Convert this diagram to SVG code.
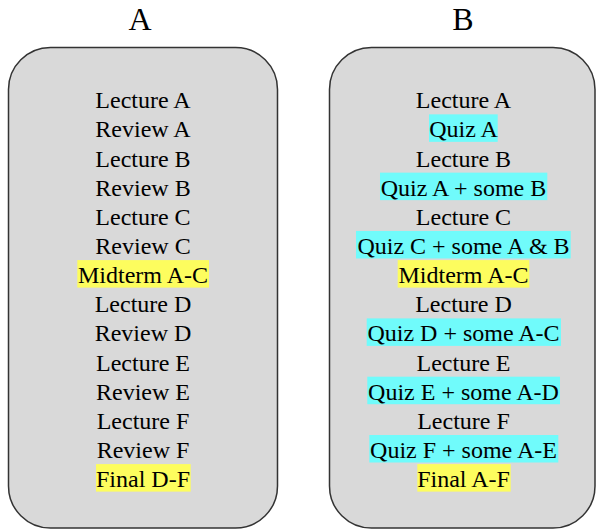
<svg xmlns="http://www.w3.org/2000/svg" width="596" height="529" viewBox="0 0 596 529">
<style>
.box{fill:#d9d9d9;stroke:#333;stroke-width:1.5}
.t{font-family:"Liberation Serif","Times New Roman",serif;font-size:24px;fill:#000;text-anchor:middle}
.title{font-family:"Liberation Serif","Times New Roman",serif;font-size:32px;fill:#000;text-anchor:middle}
.y{fill:#fdfd5e}
.c{fill:#70fbfb}
</style>
<rect width="596" height="529" fill="#fff"/>
<g id="title-A"><text class="title" x="140" y="30">A</text></g>
<g id="title-B"><text class="title" x="463" y="30">B</text></g>
<g id="column-A">
<rect class="box" x="8.5" y="47.5" width="269" height="480.5" rx="42" ry="42"/>
<rect class="y" x="77.3" y="260.1" width="131.7" height="27.5"/>
<rect class="y" x="96" y="464.1" width="94.7" height="27.5"/>
<text class="t" x="143" y="108.2">Lecture A</text>
<text class="t" x="143" y="137.35">Review A</text>
<text class="t" x="143" y="166.5">Lecture B</text>
<text class="t" x="143" y="195.65">Review B</text>
<text class="t" x="143" y="224.8">Lecture C</text>
<text class="t" x="143" y="253.95">Review C</text>
<text class="t" x="143" y="283.1">Midterm A-C</text>
<text class="t" x="143" y="312.25">Lecture D</text>
<text class="t" x="143" y="341.4">Review D</text>
<text class="t" x="143" y="370.55">Lecture E</text>
<text class="t" x="143" y="399.7">Review E</text>
<text class="t" x="143" y="428.85">Lecture F</text>
<text class="t" x="143" y="458">Review F</text>
<text class="t" x="143" y="487.15">Final D-F</text>
</g>
<g id="column-B">
<rect class="box" x="329.5" y="47.5" width="265.5" height="480.5" rx="42" ry="42"/>
<rect class="c" x="429" y="114.35" width="68.7" height="27.5"/>
<rect class="c" x="380" y="172.65" width="167.3" height="27.5"/>
<rect class="c" x="356" y="230.95" width="214.7" height="27.5"/>
<rect class="y" x="397.7" y="260.1" width="131.6" height="27.5"/>
<rect class="c" x="366.7" y="318.4" width="194.3" height="27.5"/>
<rect class="c" x="367.3" y="376.7" width="192.7" height="27.5"/>
<rect class="c" x="369.3" y="435" width="189" height="27.5"/>
<rect class="y" x="417.3" y="464.1" width="93.4" height="27.5"/>
<text class="t" x="463.5" y="108.2">Lecture A</text>
<text class="t" x="463.5" y="137.35">Quiz A</text>
<text class="t" x="463.5" y="166.5">Lecture B</text>
<text class="t" x="463.5" y="195.65">Quiz A + some B</text>
<text class="t" x="463.5" y="224.8">Lecture C</text>
<text class="t" x="463.5" y="253.95">Quiz C + some A &amp; B</text>
<text class="t" x="463.5" y="283.1">Midterm A-C</text>
<text class="t" x="463.5" y="312.25">Lecture D</text>
<text class="t" x="463.5" y="341.4">Quiz D + some A-C</text>
<text class="t" x="463.5" y="370.55">Lecture E</text>
<text class="t" x="463.5" y="399.7">Quiz E + some A-D</text>
<text class="t" x="463.5" y="428.85">Lecture F</text>
<text class="t" x="463.5" y="458">Quiz F + some A-E</text>
<text class="t" x="463.5" y="487.15">Final A-F</text>
</g>
</svg>
